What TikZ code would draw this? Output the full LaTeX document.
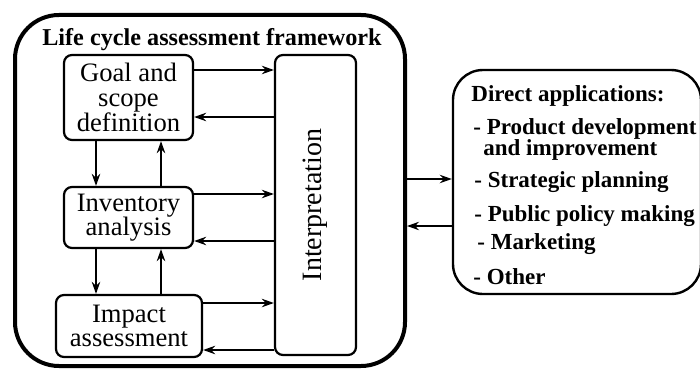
\documentclass[tikz,border=0pt]{standalone}
\usepackage{fontspec}
\setmainfont{Liberation Serif}
\usetikzlibrary{arrows.meta}
\begin{document}
\begin{tikzpicture}[x=0.5pt,y=-0.5pt,
  box/.style={draw, line width=1.1pt, rounded corners=4pt, inner sep=0pt, align=center,
    font=\fontsize{13.3}{12.3}\selectfont},
  arr/.style={line width=0.9pt, -{Stealth[length=6pt,width=4.2pt]}},
  apptext/.style={anchor=west, inner sep=0pt, font=\fontsize{11.5}{11}\selectfont\bfseries}]
\useasboundingbox (0,0) rectangle (700,369);
% outer frame
\node[draw, line width=2pt, rounded corners=22pt, minimum width=195pt, minimum height=175.5pt, inner sep=0pt] (frame) at (210,190.5) {};
\node[inner sep=0pt, font=\fontsize{12.1}{14}\selectfont\bfseries] (title) at (212,40) {Life cycle assessment framework};
% boxes
\node[box, minimum width=64.5pt, minimum height=42.5pt] (goal) at (128.5,97.5) {Goal and\\scope\\definition};
\node[box, minimum width=64.5pt, minimum height=30.5pt] (inv) at (128.5,217.5) {Inventory\\analysis};
\node[box, minimum width=73pt, minimum height=31pt] (imp) at (129,326) {Impact\\assessment};
\node[box, minimum width=40.5pt, minimum height=150pt,
  label={[rotate=90, font=\fontsize{14}{14}\selectfont]center:Interpretation}] (interp) at (315.5,205) {};
% applications box
\node[draw, line width=1.2pt, rounded corners=15pt, minimum width=124pt, minimum height=112pt, inner sep=0pt] (apps) at (577,182) {};
\node[apptext] (t1) at (471,96) {Direct applications:};
\node[apptext] (t2) at (473,129) {- Product development};
\node[apptext] (t3) at (483,150) {and improvement};
\node[apptext] (t4) at (474,182) {- Strategic planning};
\node[apptext] (t5) at (474,216) {- Public policy making};
\node[apptext] (t6) at (477,244) {- Marketing};
\node[apptext] (t7) at (473,277) {- Other};
% level coordinates
\coordinate (y1) at (0,70);
\coordinate (y2) at (0,117);
\coordinate (y3) at (0,194);
\coordinate (y4) at (0,241);
\coordinate (y5) at (0,303);
\coordinate (y6) at (0,350);
\coordinate (ya) at (0,179);
\coordinate (yb) at (0,226);
\coordinate (xd) at (96,0);
\coordinate (xu) at (161,0);
% connectors
\draw[arr] (goal.east |- y1) -- (interp.west |- y1);
\draw[arr] (interp.west |- y2) -- (goal.east |- y2);
\draw[arr] (inv.east |- y3) -- (interp.west |- y3);
\draw[arr] (interp.west |- y4) -- (inv.east |- y4);
\draw[arr] (imp.east |- y5) -- (interp.west |- y5);
\draw[arr] (interp.west |- y6) -- (imp.east |- y6);
\draw[arr] (xd |- goal.south) -- (xd |- inv.north);
\draw[arr] (xu |- inv.north) -- (xu |- goal.south);
\draw[arr] (xd |- inv.south) -- (xd |- imp.north);
\draw[arr] (xu |- imp.north) -- (xu |- inv.south);
\draw[arr] (frame.east |- ya) -- (apps.west |- ya);
\draw[arr] (apps.west |- yb) -- (frame.east |- yb);
\end{tikzpicture}
\end{document}
